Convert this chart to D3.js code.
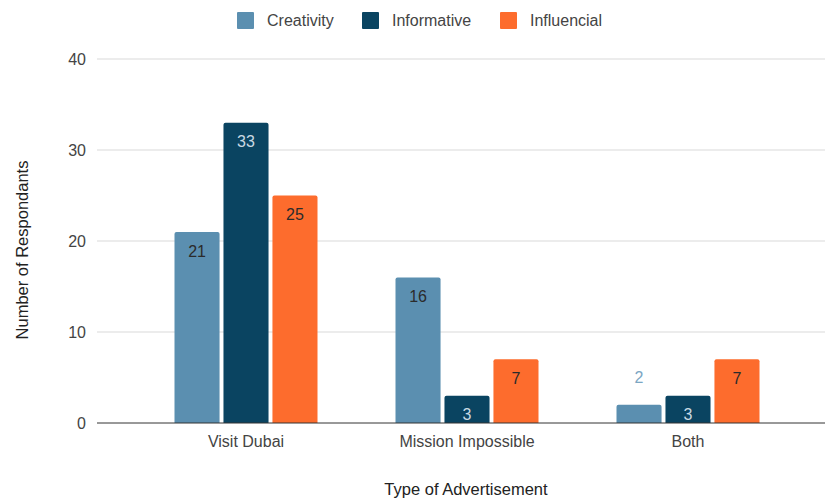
<!DOCTYPE html>
<html><head><meta charset="utf-8">
<script src="https://cdn.jsdelivr.net/npm/d3@7"></script>
<style>body{margin:0;background:#fff}svg{display:block;font-family:"Liberation Sans",Arial,sans-serif}</style>
</head><body><svg id="c" width="826" height="500"></svg>
<script>
const categories = ["Visit Dubai", "Mission Impossible", "Both"];
const seriesNames = ["Creativity", "Informative", "Influencial"];
const creativity = [21, 16, 2];
const informative = [33, 3, 3];
const influencial = [25, 7, 7];
const yTicks = [0, 10, 20, 30, 40];
const colors = ["#5b8fb0", "#0a4461", "#fd6c2d"];
const labelColors = ["#2b2b2b", "#c9d9e3", "#2b2b2b"];
const seriesValues = [creativity, informative, influencial];
const FS = 16;

const svg = d3.select("#c");
const x = d3.scaleBand().domain(categories).range([135.5, 798.5]).paddingInner(0).paddingOuter(0);
const xs = d3.scaleBand().domain(seriesNames).range([39, 182]).paddingInner(0.08).paddingOuter(0);
const y = d3.scaleLinear().domain([0, 40]).range([423, 59]);

svg.append("g").selectAll("line").data(yTicks.filter(d=>d>0)).join("line")
  .attr("x1", 97).attr("x2", 825).attr("y1", d=>y(d)).attr("y2", d=>y(d))
  .attr("stroke", "#d9d9d9").attr("stroke-width", 1);

svg.append("g").selectAll("text").data(yTicks).join("text")
  .attr("x", 86).attr("y", d=>y(d)).attr("dy", "0.35em").attr("text-anchor", "end")
  .attr("font-size", FS).attr("fill", "#444").text(d=>d);

const data = [];
categories.forEach((c,i)=>seriesNames.forEach((s,j)=>data.push({c, s, j, v: seriesValues[j][i]})));
const g = svg.append("g");
g.selectAll("path").data(data).join("path")
  .attr("fill", d=>colors[d.j])
  .attr("d", d=>{
    const x0 = x(d.c)+xs(d.s), w = xs.bandwidth(), y0 = y(d.v), y1 = y(0), r = 2;
    return `M${x0},${y1}V${y0+r}Q${x0},${y0} ${x0+r},${y0}H${x0+w-r}Q${x0+w},${y0} ${x0+w},${y0+r}V${y1}Z`;
  });

const small = d => (y(0)-y(d.v) < 24) && d.j===0;
g.selectAll("text").data(data).join("text")
  .attr("x", d=>x(d.c)+xs(d.s)+xs.bandwidth()/2)
  .attr("y", d=> small(d) ? y(d.v)-27 : y(d.v)+19)
  .attr("dy", "0.35em")
  .attr("text-anchor", "middle").attr("font-size", FS)
  .attr("fill", d=> small(d) ? "#7ba6c3" : labelColors[d.j])
  .text(d=>d.v);

svg.append("line").attr("x1", 97).attr("x2", 825).attr("y1", y(0)).attr("y2", y(0))
  .attr("stroke", "#333").attr("stroke-width", 1);

svg.append("g").selectAll("text").data(categories).join("text")
  .attr("x", d=>x(d)+x.bandwidth()/2).attr("y", 441).attr("dy", "0.35em").attr("text-anchor", "middle")
  .attr("font-size", FS).attr("fill", "#444").text(d=>d);

svg.append("text").attr("x", 466).attr("y", 489).attr("dy", "0.35em").attr("text-anchor", "middle")
  .attr("font-size", 16.5).attr("fill", "#222").text("Type of Advertisement");
svg.append("text").attr("transform", "translate(22,250) rotate(-90)").attr("dy", "0.35em").attr("text-anchor", "middle")
  .attr("font-size", 16.5).attr("fill", "#222").text("Number of Respondants");

const legX = [237, 362, 500];
const lg = svg.append("g").selectAll("g").data(seriesNames).join("g")
  .attr("transform", (d,i)=>`translate(${legX[i]},12)`);
lg.append("rect").attr("width", 17).attr("height", 17).attr("rx", 1).attr("fill", (d,i)=>colors[i]);
lg.append("text").attr("x", 30).attr("y", 8.5).attr("dy", "0.35em").attr("font-size", FS)
  .attr("fill", "#444").text(d=>d);
</script></body></html>
